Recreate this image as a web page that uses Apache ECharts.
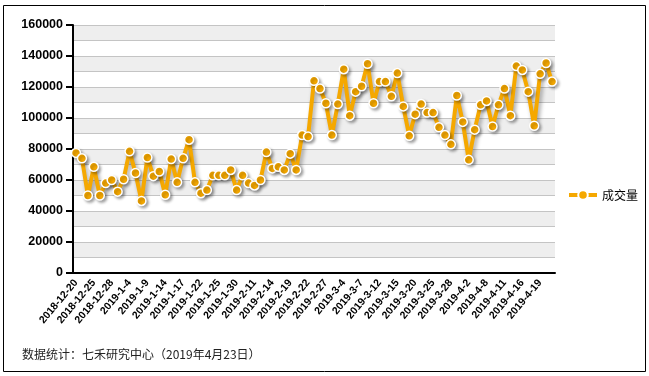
<!DOCTYPE html>
<html>
<head>
<meta charset="utf-8">
<script src="https://cdn.jsdelivr.net/npm/echarts@6/dist/echarts.min.js"></script>
<style>html,body{margin:0;padding:0;background:#fff;}#c{width:649px;height:376px;}</style>
</head>
<body>
<div id="c"></div>
<script>
var categories = [
  '2018-12-20','2018-12-21','2018-12-24','2018-12-25','2018-12-26','2018-12-27','2018-12-28',
  '2019-1-2','2019-1-3','2019-1-4','2019-1-7','2019-1-8','2019-1-9','2019-1-10','2019-1-11','2019-1-14',
  '2019-1-15','2019-1-16','2019-1-17','2019-1-18','2019-1-21','2019-1-22','2019-1-23','2019-1-24','2019-1-25',
  '2019-1-28','2019-1-29','2019-1-30','2019-1-31','2019-2-1',
  '2019-2-11','2019-2-12','2019-2-13','2019-2-14','2019-2-15','2019-2-18','2019-2-19','2019-2-20','2019-2-21','2019-2-22',
  '2019-2-25','2019-2-26','2019-2-27','2019-2-28',
  '2019-3-1','2019-3-4','2019-3-5','2019-3-6','2019-3-7','2019-3-8','2019-3-11','2019-3-12','2019-3-13','2019-3-14','2019-3-15',
  '2019-3-18','2019-3-19','2019-3-20','2019-3-21','2019-3-22','2019-3-25','2019-3-26','2019-3-27','2019-3-28','2019-3-29',
  '2019-4-1','2019-4-2','2019-4-3','2019-4-4','2019-4-8','2019-4-9','2019-4-10','2019-4-11','2019-4-12',
  '2019-4-15','2019-4-16','2019-4-17','2019-4-18','2019-4-19','2019-4-22','2019-4-23'
];
var volume = [
  77500,74000,50000,68500,50000,58000,60000,
  52500,60500,78500,64500,46500,74500,62500,65500,50500,
  73500,58500,74000,86000,58500,51500,53500,63000,63000,
  63000,66500,53500,63000,58000,
  56500,60000,78000,67500,68500,66500,77000,66500,89000,88000,
  124000,119000,109500,89000,
  109000,131500,101500,117000,120500,135000,109500,123500,123500,114000,129000,
  107500,88500,102500,109000,103500,103500,94000,89000,83000,114500,
  97500,73000,92500,108500,111000,94500,108500,119000,101500,
  133500,131000,117000,95000,128500,135500,123500
];
var yTicks = [0,20000,40000,60000,80000,100000,120000,140000,160000];
var seriesName = '成交量';
var footer = '数据统计：七禾研究中心（2019年4月23日）';

var chart = echarts.init(document.getElementById('c'));
var gold = '#F5A800';
var latin = "'Liberation Sans', Arial, sans-serif";
chart.setOption({
  animation: false,
  backgroundColor: '#ffffff',
  grid: {left: 73, right: 94, top: 25, bottom: 103, containLabel: false},
  legend: {
    data: [seriesName], left: 562, top: 184, itemWidth: 28, itemHeight: 12, itemGap: 6,
    lineStyle: {width: 4},
    textStyle: {fontSize: 12, color: '#000', fontFamily: "'Noto Sans CJK SC'"}
  },
  xAxis: {
    type: 'category', data: categories, boundaryGap: true,
    axisLine: {lineStyle: {color: '#000', width: 2}},
    axisTick: {interval: 2, length: 6, lineStyle: {color: '#000', width: 2}},
    axisLabel: {interval: 2, rotate: 50, margin: 8, color: '#000', fontSize: 10.5, fontWeight: 'bold', fontFamily: latin},
    splitLine: {show: false}
  },
  yAxis: [{
    type: 'value', min: yTicks[0], max: yTicks[yTicks.length-1], interval: yTicks[1]-yTicks[0],
    axisLine: {show: true, lineStyle: {color: '#000', width: 2}},
    axisTick: {show: true, length: 7, lineStyle: {color: '#000', width: 2}},
    axisLabel: {color: '#000', fontSize: 12.5, fontWeight: 'bold', margin: 10, fontFamily: latin,
      formatter: function (v) { return String(v); }},
    splitLine: {show: false}
  }, {
    type: 'value', min: yTicks[0], max: yTicks[yTicks.length-1], interval: (yTicks[1]-yTicks[0])/2,
    position: 'left', z: 0,
    axisLine: {show: false}, axisTick: {show: false}, axisLabel: {show: false},
    splitLine: {show: true, lineStyle: {color: '#c4c4c4', width: 1}},
    splitArea: {show: true, areaStyle: {color: ['#ffffff', '#eeeeee']}}
  }],
  graphic: [
    {type: 'rect', shape: {x: 3.5, y: 5.5, width: 642, height: 366}, style: {fill: 'none', stroke: '#000', lineWidth: 1}, silent: true},
    {type: 'text', left: 22, top: 348, style: {text: footer, fontSize: 12, fill: '#222', fontFamily: "'Noto Sans CJK SC'"}}
  ],
  series: [{
    name: seriesName, type: 'line', data: volume, yAxisIndex: 0,
    symbol: 'circle', symbolSize: 9, showAllSymbol: true,
    lineStyle: {color: gold, width: 4, shadowColor: 'rgba(0,0,0,0.35)', shadowBlur: 4, shadowOffsetX: 2, shadowOffsetY: 3},
    itemStyle: {color: gold, borderColor: '#fff', borderWidth: 1.5, shadowColor: 'rgba(0,0,0,0.3)', shadowBlur: 3, shadowOffsetX: 2, shadowOffsetY: 2}
  }]
});
</script>
</body>
</html>
